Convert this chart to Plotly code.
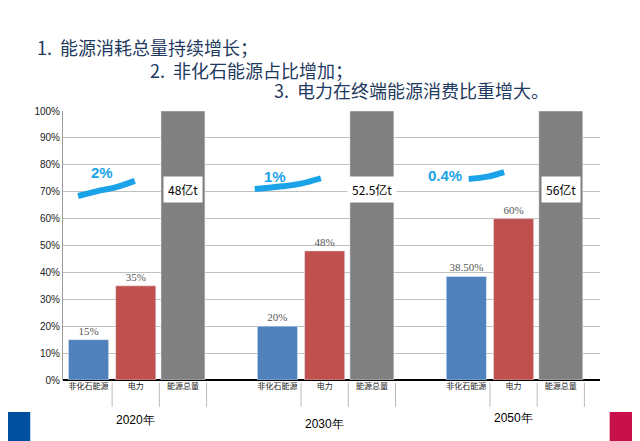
import plotly.graph_objects as go

# data
years = ["2020年", "2030年", "2050年"]
categories = ["非化石能源", "电力", "能源总量"]
non_fossil = [15, 20, 38.5]
electricity = [35, 48, 60]
total_share = [100, 100, 100]
non_fossil_text = ["15%", "20%", "38.50%"]
electricity_text = ["35%", "48%", "60%"]
total_text = ["48亿t", "52.5亿t", "56亿t"]
growth_text = ["2%", "1%", "0.4%"]
title_lines = ["1.  能源消耗总量持续增长；", "2.  非化石能源占比增加；", "3.  电力在终端能源消费比重增大。"]

# hand drawn growth strokes (x offset inside group, y in %)
stroke_x = [[-0.22, 0.25, 0.55, 0.98], [-0.48, 0.1, 0.5, 0.92], [0.05, 0.45, 0.8]]
stroke_y = [[68.4, 70.5, 71.5, 74.0], [71.0, 72.0, 73.0, 75.0], [74.7, 75.6, 77.3]]
growth_pos = [(0.29, 77.3), (-0.05, 75.8), (-0.46, 76.0)]

group_step = 4
pos = lambda g, i: g * group_step + i

fig = go.Figure()
fig.add_bar(x=[pos(g, 0) for g in range(3)], y=non_fossil, text=non_fossil_text,
            marker_color="#4f81bd", width=0.85)
fig.add_bar(x=[pos(g, 1) for g in range(3)], y=electricity, text=electricity_text,
            marker_color="#c0504d", width=0.85)
fig.add_bar(x=[pos(g, 2) for g in range(3)], y=total_share,
            marker_color="#808080", width=0.93)
fig.update_traces(textposition="outside", cliponaxis=False,
                  textfont=dict(family="Liberation Serif", size=11, color="#555"))

for g in range(3):
    fig.add_scatter(x=[pos(g, 0) + v for v in stroke_x[g]], y=stroke_y[g], mode="lines",
                    line=dict(color="#1aa3e8", width=6, shape="spline"))
    fig.add_annotation(x=pos(g, 0) + growth_pos[g][0], y=growth_pos[g][1], text="<b>%s</b>" % growth_text[g],
                       showarrow=False, yanchor="middle",
                       font=dict(family="Liberation Sans", size=15, color="#1aa3e8"))
    fig.add_annotation(x=pos(g, 2), y=71, text=total_text[g], showarrow=False,
                       bgcolor="white", borderpad=4, yanchor="middle",
                       font=dict(family="Noto Sans CJK SC", size=12, color="black"))
    fig.add_annotation(x=pos(g, 1), y=[-0.149, -0.164, -0.142][g], yref="paper", text=years[g],
                       showarrow=False, xanchor="center", yanchor="middle",
                       font=dict(family="Liberation Sans", size=12, color="black"))
    for i in range(3):
        fig.add_shape(type="line", x0=pos(g, i) + 0.5, x1=pos(g, i) + 0.5, y0=-0.01, y1=-0.1,
                      yref="paper", line=dict(color="#bbb", width=1))

title_pos = [(-0.052, 1.238), (0.158, 1.152), (0.389, 1.078)]
for t, (px_, py_) in zip(title_lines, title_pos):
    fig.add_annotation(x=px_, y=py_, xref="paper", yref="paper", text=t, showarrow=False,
                       xanchor="left", yanchor="middle",
                       font=dict(family="Noto Sans CJK SC", size=18, color="#1f3a5f"))

# corner blocks and right edge rule
fig.add_shape(type="rect", xref="paper", yref="paper", x0=-0.117, x1=-0.061, y0=-0.227, y1=-0.119,
              fillcolor="#0050a0", line_width=0)
fig.add_shape(type="rect", xref="paper", yref="paper", x0=1.018, x1=1.074, y0=-0.227, y1=-0.119,
              fillcolor="#c8104a", line_width=0)
fig.add_shape(type="line", xref="paper", yref="paper", x0=1.071, x1=1.071, y0=-0.11, y1=1.41,
              line=dict(color="#ddd", width=1))

# page body adds an 8px margin, so the figure is drawn 8px smaller
fig.update_layout(
    width=632, height=433, showlegend=False, barmode="overlay",
    margin=dict(l=55, r=40, t=103, b=61),
    plot_bgcolor="white", paper_bgcolor="white",
    xaxis=dict(range=[-0.54, 10.83], tickvals=[pos(g, i) for g in range(3) for i in range(3)],
               ticktext=categories * 3, showgrid=False, zeroline=False, ticks="",
               tickfont=dict(family="Noto Sans CJK SC", size=8, color="#222")),
    yaxis=dict(range=[0, 100], dtick=10, ticksuffix="%", showgrid=True, gridcolor="#c0c0c0",
               zeroline=True, zerolinecolor="black", zerolinewidth=1.5,
               showline=True, linecolor="#999",
               tickfont=dict(family="Liberation Sans", size=10, color="#222")),
)

fig.write_html("out.html")
